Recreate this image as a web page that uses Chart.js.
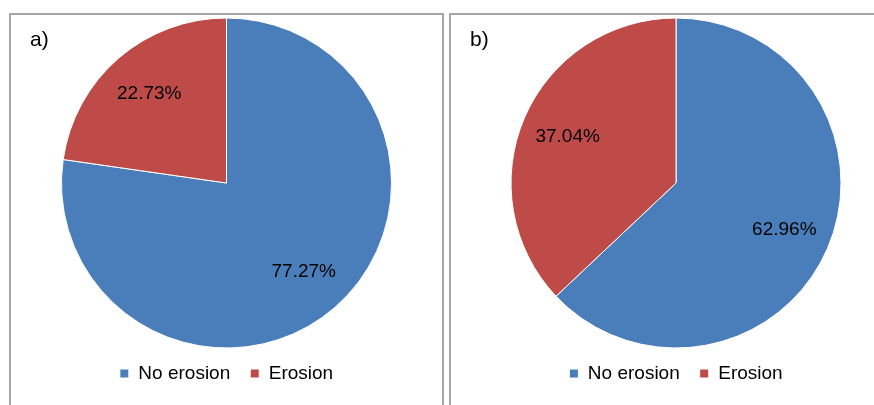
<!DOCTYPE html>
<html>
<head>
<meta charset="utf-8">
<script src="https://cdn.jsdelivr.net/npm/chart.js@4"></script>
<style>
  body { margin: 0; background: #fff; width: 874px; height: 405px; overflow: hidden; position: relative; font-family: "Liberation Sans", Arial, sans-serif; }
  .panel { position: absolute; top: 13px; border: 2px solid #a6a6a6; border-bottom: none; background: #fff; }
  #panelA { left: 9px; width: 431px; height: 400px; }
  #panelB { left: 449px; width: 450px; height: 400px; }
  .tag { position: absolute; top: 12px; left: 19px; font-size: 21px; color: #000; }
  canvas { position: absolute; left: 0; top: 0; }
</style>
</head>
<body>
<div class="panel" id="panelA">
  <canvas id="chartA" width="431" height="390"></canvas>
  <div class="tag">a)</div>
</div>
<div class="panel" id="panelB">
  <canvas id="chartB" width="450" height="390"></canvas>
  <div class="tag">b)</div>
</div>
<script>
const categories = ["No erosion", "Erosion"];
const valuesA = [77.27, 22.73];
const valuesB = [62.96, 37.04];
const colors = ["#4A7EBB", "#BE4B48"];

// percent labels inside each slice
const sliceLabels = {
  id: "sliceLabels",
  afterDatasetsDraw(chart) {
    const ctx = chart.ctx;
    const data = chart.data.datasets[0].data;
    ctx.save();
    ctx.font = "19px 'Liberation Sans', Arial, sans-serif";
    ctx.fillStyle = "#000";
    ctx.textAlign = "center";
    ctx.textBaseline = "middle";
    chart.getDatasetMeta(0).data.forEach((arc, i) => {
      const p = arc.getProps(["x", "y", "startAngle", "endAngle", "outerRadius"], true);
      const mid = (p.startAngle + p.endAngle) / 2;
      const d = p.outerRadius * 0.715;
      ctx.fillText(data[i].toFixed(2) + "%", p.x + Math.cos(mid) * d, p.y + Math.sin(mid) * d);
    });
    ctx.restore();
  },
};

function makePie(id, values) {
  new Chart(document.getElementById(id), {
    type: "pie",
    data: {
      labels: categories,
      datasets: [{
        data: values,
        backgroundColor: colors,
        borderColor: "#ffffff",
        borderWidth: 1,
        radius: 165,
      }],
    },
    options: {
      responsive: false,
      animation: false,
      layout: { padding: { top: 7, bottom: 12 } },
      plugins: {
        legend: {
          position: "bottom",
          labels: {
            boxWidth: 9,
            boxHeight: 9,
            padding: 20,
            color: "#000",
            font: { size: 19, family: "'Liberation Sans', Arial, sans-serif" },
          },
        },
        tooltip: { enabled: false },
      },
    },
    plugins: [sliceLabels],
  });
}

makePie("chartA", valuesA);
makePie("chartB", valuesB);
</script>
</body>
</html>
